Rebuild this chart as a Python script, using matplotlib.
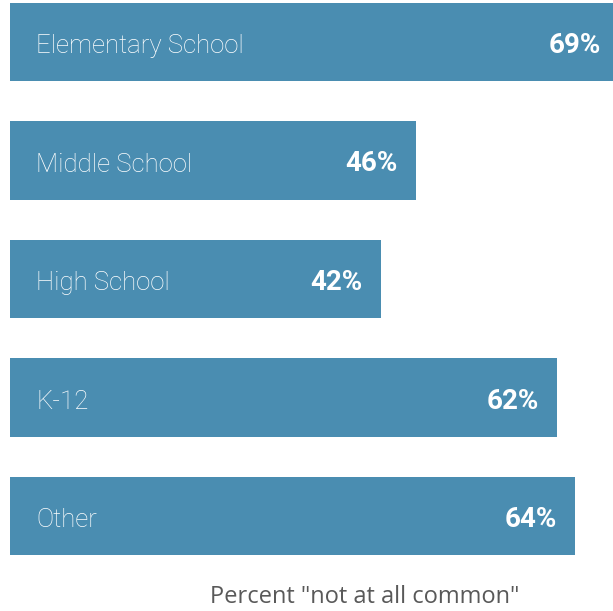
import matplotlib
matplotlib.use("Agg")
import matplotlib.pyplot as plt

categories = ["Elementary School", "Middle School", "High School", "K-12", "Other"]
values = [69, 46, 42, 62, 64]
value_labels = ["69%", "46%", "42%", "62%", "64%"]
axis_label = 'Percent "not at all common"'

bar_color = "#4a8db1"

fig = plt.figure(figsize=(6.13, 6.11), dpi=100)
ax = fig.add_axes([10 / 613, 0, 1 - 10 / 613, 1])

pos = list(range(len(categories)))
ax.barh(pos, values, height=0.66, color=bar_color, edgecolor="none")
ax.set_xlim(0, 68.3)
ax.set_ylim(4.80, -0.354)

font = ["Roboto", "DejaVu Sans"]
for i, (cat, v, lab) in enumerate(zip(categories, values, value_labels)):
    ax.annotate(cat, (0, i), xytext=(19, -3), textcoords="offset points",
                ha="left", va="center", color="white", fontsize=18.5,
                fontweight="light", family=font)
    ax.annotate(lab, (v, i), xytext=(-13, -2.5), textcoords="offset points",
                ha="right", va="center", color="white", fontsize=20,
                fontweight="bold", family=font, annotation_clip=False)

ax.axis("off")

fig.text(365 / 613, 1 - 597 / 611, axis_label, ha="center", va="center",
         color="#595959", fontsize=17, family=["Open Sans", "DejaVu Sans"])

fig.savefig("out.png", dpi=100)
